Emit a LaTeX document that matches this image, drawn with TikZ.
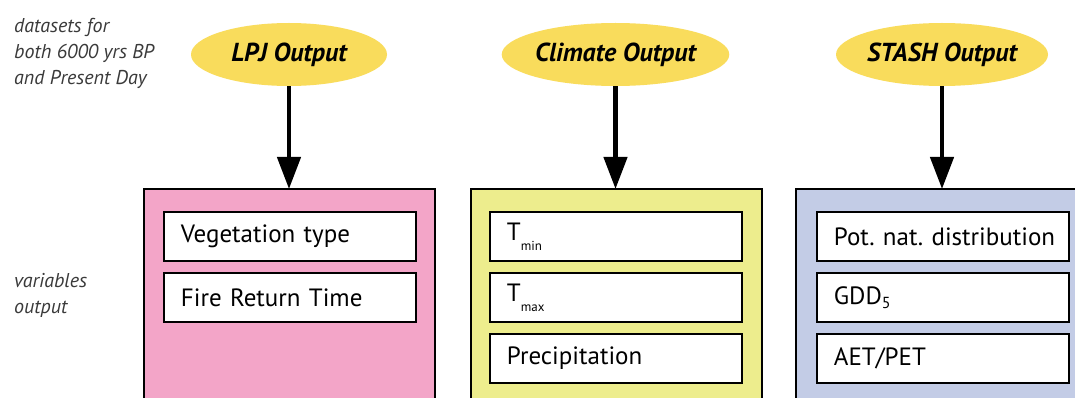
\documentclass[tikz,border=0pt]{standalone}
\usepackage{fontspec}
\setmainfont{PT Sans}
\usetikzlibrary{arrows.meta,shapes.geometric}
\definecolor{ovalfill}{HTML}{F9DC5C}
\definecolor{lpjfill}{HTML}{F3A5C8}
\definecolor{climfill}{HTML}{EDED8D}
\definecolor{stashfill}{HTML}{C3CCE6}
\definecolor{notegray}{HTML}{3A3A3A}
\frenchspacing
\tikzset{
  oval/.style={ellipse, fill=ovalfill, minimum width=196pt, minimum height=63pt,
    inner sep=0pt, font=\fontsize{26}{28}\selectfont\bfseries\itshape},
  panel/.style={draw=black, line width=1.6pt, anchor=north west,
    minimum width=291pt, minimum height=240pt, inner sep=0pt},
  itembox/.style={draw=black, line width=1.8pt, fill=white, anchor=north west,
    minimum width=252pt, minimum height=49pt, text width=218pt, inner xsep=17pt,
    inner ysep=0pt, align=left, font=\fontsize{25}{27}\selectfont},
  feed/.style={line width=4.5pt, -{Triangle[width=23pt,length=32pt]}, shorten >=-1pt},
  note/.style={anchor=north west, align=left, text=notegray, inner sep=0pt,
    font=\fontsize{20}{26}\selectfont\itshape}
}
\newcommand{\lowsub}[1]{\raisebox{-10pt}{\fontsize{13}{13}\selectfont #1}}
\begin{document}
\begin{tikzpicture}[x=1pt,y=-1pt]
\useasboundingbox (0,0) rectangle (1075,398);
\clip (0,0) rectangle (1075,398);
\fill[white] (0,0) rectangle (1075,398);

% side notes
\node[note] (notedata) at (14,18) {datasets for\\both 6000 yrs BP\\and Present Day};
\node[note] (notevars) at (14,273) {variables\\output};

% model outputs
\node[oval] (lpj) at (289,54.5) {LPJ Output};
\node[oval] (clim) at (615.5,54.5) {Climate Output};
\node[oval] (stash) at (942,54.5) {STASH Output};

% variable panels
\node[panel, fill=lpjfill] (lpjbox) at (143,188) {};
\node[panel, fill=climfill] (climbox) at (470,188) {};
\node[panel, fill=stashfill] (stashbox) at (795,188) {};

% LPJ variables
\node[itembox] (veg) at (163,211) {Vegetation type};
\node[itembox] (fire) at (163,272) {Fire Return Time};

% climate variables
\node[itembox] (tmin) at (489,211) {T\lowsub{min}};
\node[itembox] (tmax) at (489,272) {T\lowsub{max}};
\node[itembox] (prec) at (489,333) {Precipitation};

% STASH variables
\node[itembox] (pnd) at (816,211) {\mbox{Pot. nat. distribution}};
\node[itembox] (gdd) at (816,272) {GDD\raisebox{-4pt}{\fontsize{16}{16}\selectfont 5}};
\node[itembox] (aet) at (816,333) {AET/PET};

% data flow
\draw[feed] (lpj.south) -- (lpjbox.north -| lpj.south);
\draw[feed] (clim.south) -- (climbox.north -| clim.south);
\draw[feed] (stash.south) -- (stashbox.north -| stash.south);
\end{tikzpicture}
\end{document}
